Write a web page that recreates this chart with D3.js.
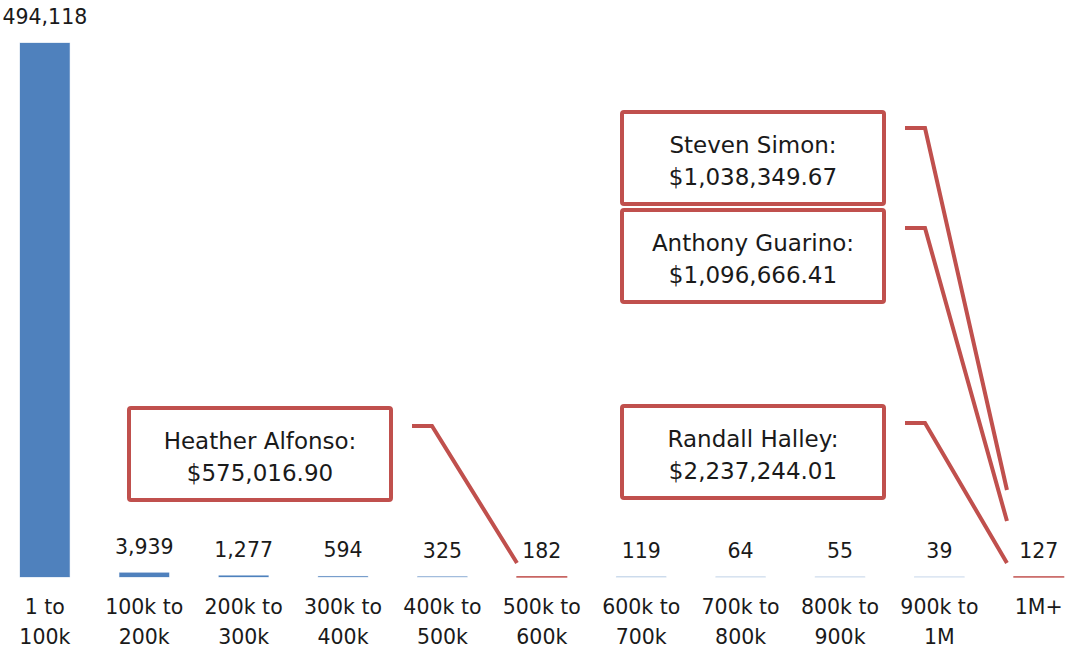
<!DOCTYPE html>
<html>
<head>
<meta charset="utf-8">
<script src="https://cdn.jsdelivr.net/npm/d3@7"></script>
<style>
  html, body { margin: 0; padding: 0; background: #fff; }
  svg { display: block; }
  text { font-family: "DejaVu Sans", sans-serif; fill: #1a1a1a; }
</style>
</head>
<body>
<svg id="chart" width="1065" height="650"></svg>
<script>
// ---- data ----
const categories = ["1 to 100k", "100k to 200k", "200k to 300k", "300k to 400k", "400k to 500k",
                    "500k to 600k", "600k to 700k", "700k to 800k", "800k to 900k", "900k to 1M", "1M+"];
const categoryLines = [["1 to", "100k"], ["100k to", "200k"], ["200k to", "300k"], ["300k to", "400k"],
                       ["400k to", "500k"], ["500k to", "600k"], ["600k to", "700k"], ["700k to", "800k"],
                       ["800k to", "900k"], ["900k to", "1M"], ["1M+"]];
const counts = [494118, 3939, 1277, 594, 325, 182, 119, 64, 55, 39, 127];
const highlighted = ["500k to 600k", "1M+"];

const calloutNames = ["Heather Alfonso:", "Steven Simon:", "Anthony Guarino:", "Randall Halley:"];
const calloutAmounts = ["$575,016.90", "$1,038,349.67", "$1,096,666.41", "$2,237,244.01"];
const calloutCategories = ["500k to 600k", "1M+", "1M+", "1M+"];

// ---- layout ----
const baseY = 577, topY = 43;
const blue = "#4F81BD", red = "#C0504D";
const fontSize = 20.5;
const calloutFont = 23;

const svg = d3.select("#chart");

const x = d3.scaleBand().domain(categories).range([-4.85, 1088.5]).paddingInner(0.5).paddingOuter(0.25);
const y = d3.scaleLinear().domain([0, d3.max(counts)]).range([baseY, topY]);

const data = categories.map((c, i) => ({ c, v: counts[i], lines: categoryLines[i], hl: highlighted.includes(c) }));

// bars
svg.append("g").selectAll("rect").data(data).join("rect")
  .attr("x", d => x(d.c))
  .attr("y", d => y(d.v))
  .attr("width", x.bandwidth())
  .attr("height", d => baseY - y(d.v))
  .attr("fill", d => d.hl ? red : blue)
  .attr("stroke", d => d.hl ? red : blue)
  .attr("stroke-width", d => d.hl ? 1.3 : 0.8)
  .attr("stroke-opacity", d => d.hl ? 1 : 0.35);

// value labels
const fmt = d3.format(",");
svg.append("g").selectAll("text").data(data).join("text")
  .attr("x", d => x(d.c) + x.bandwidth() / 2)
  .attr("y", d => y(d.v) - 19)
  .attr("text-anchor", "middle")
  .attr("font-size", fontSize)
  .text(d => fmt(d.v));

// category labels
const catG = svg.append("g").selectAll("text").data(data).join("text")
  .attr("x", d => x(d.c) + x.bandwidth() / 2)
  .attr("y", 614)
  .attr("text-anchor", "middle")
  .attr("font-size", fontSize);
catG.selectAll("tspan").data(d => d.lines.map(l => ({ l, cx: x(d.c) + x.bandwidth() / 2 }))).join("tspan")
  .attr("x", t => t.cx)
  .attr("dy", (t, i) => i === 0 ? 0 : 30)
  .text(t => t.l);

// callouts
const boxW = 262, boxH = 92;
const calloutLayout = [
  { bx: 129, by: 408, ly: 426, ex: 0,  ey: baseY - 14 },
  { bx: 622, by: 112, ly: 128, ex: -7, ey: 490 },
  { bx: 622, by: 210, ly: 228, ex: -7, ey: 521 },
  { bx: 622, by: 406, ly: 423, ex: -7, ey: baseY - 14 }
];
const callouts = calloutNames.map((n, i) => ({ n, a: calloutAmounts[i], c: calloutCategories[i], L: calloutLayout[i] }));

const cg = svg.append("g");
callouts.forEach(d => {
  const L = d.L;
  cg.append("rect")
    .attr("x", L.bx).attr("y", L.by).attr("width", boxW).attr("height", boxH)
    .attr("rx", 2)
    .attr("fill", "#fff").attr("stroke", red).attr("stroke-width", 4);
  cg.append("text").attr("x", L.bx + boxW / 2).attr("y", L.by + 41)
    .attr("text-anchor", "middle").attr("font-size", calloutFont).text(d.n);
  cg.append("text").attr("x", L.bx + boxW / 2).attr("y", L.by + 73)
    .attr("text-anchor", "middle").attr("font-size", calloutFont).text(d.a);
  const sx = L.bx + boxW + 21;
  cg.append("polyline")
    .attr("points", [[sx, L.ly], [sx + 20, L.ly], [x(d.c) + L.ex, L.ey]].map(p => p.join(",")).join(" "))
    .attr("fill", "none").attr("stroke", red).attr("stroke-width", 4);
});
</script>
</body>
</html>
